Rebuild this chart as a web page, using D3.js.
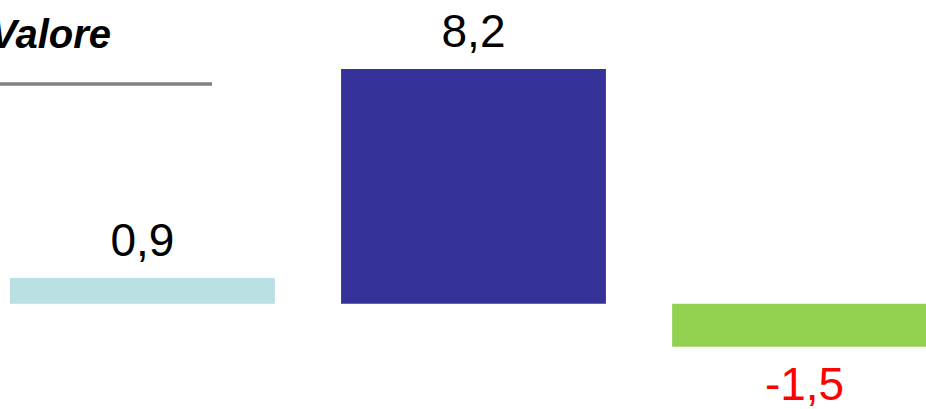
<!DOCTYPE html>
<html>
<head>
<meta charset="utf-8">
<script src="https://cdn.jsdelivr.net/npm/d3@7"></script>
<style>
  html, body { margin: 0; padding: 0; background: #ffffff; overflow: hidden; }
  svg { display: block; }
</style>
</head>
<body>
<svg id="chart" width="926" height="409"></svg>
<script>
// Data
const categories = ["Serie 1", "Serie 2", "Serie 3"];
const values = [0.9, 8.2, -1.5];
const barColors = ["#BAE0E4", "#353399", "#92D050"];
const labelColors = ["#000000", "#000000", "#FF0000"];
const titleText = "Valore";

const svg = d3.select("#chart");
const W = 926, H = 409;

svg.append("rect").attr("width", W).attr("height", H).attr("fill", "#ffffff");

const x = d3.scaleBand()
  .domain(categories)
  .range([10, 937])
  .paddingInner(0.2)
  .paddingOuter(0);

const y = d3.scaleLinear()
  .domain([-1.5, 8.2])
  .range([346.7, 69]);

const locale = d3.formatLocale({ decimal: ",", thousands: ".", grouping: [3], currency: ["€", ""], minus: "-" });
const fmt = locale.format(".1f");

const data = categories.map((c, i) => ({ c, v: values[i], color: barColors[i], lc: labelColors[i] }));

svg.append("g").selectAll("rect")
  .data(data)
  .join("rect")
  .attr("x", d => x(d.c))
  .attr("width", x.bandwidth())
  .attr("y", d => Math.min(y(d.v), y(0)))
  .attr("height", d => Math.abs(y(d.v) - y(0)))
  .attr("fill", d => d.color);

svg.append("g").selectAll("text")
  .data(data)
  .join("text")
  .attr("x", d => x(d.c) + x.bandwidth() / 2)
  .attr("y", d => d.v >= 0 ? y(d.v) - 22 : y(d.v) + 53)
  .attr("text-anchor", "middle")
  .attr("font-family", "Liberation Sans, Arial, sans-serif")
  .attr("font-size", 46)
  .attr("fill", d => d.lc)
  .text(d => fmt(d.v));

// Title (partially cut off at the left edge, as in the reference)
svg.append("text")
  .attr("x", 111)
  .attr("y", 47.7)
  .attr("text-anchor", "end")
  .attr("font-family", "Liberation Sans, Arial, sans-serif")
  .attr("font-size", 40)
  .attr("font-weight", "bold")
  .attr("font-style", "italic")
  .attr("fill", "#000000")
  .text(titleText);

svg.append("line")
  .attr("x1", 0).attr("x2", 212)
  .attr("y1", 84).attr("y2", 84)
  .attr("stroke", "#808080")
  .attr("stroke-width", 3.5);
</script>
</body>
</html>
